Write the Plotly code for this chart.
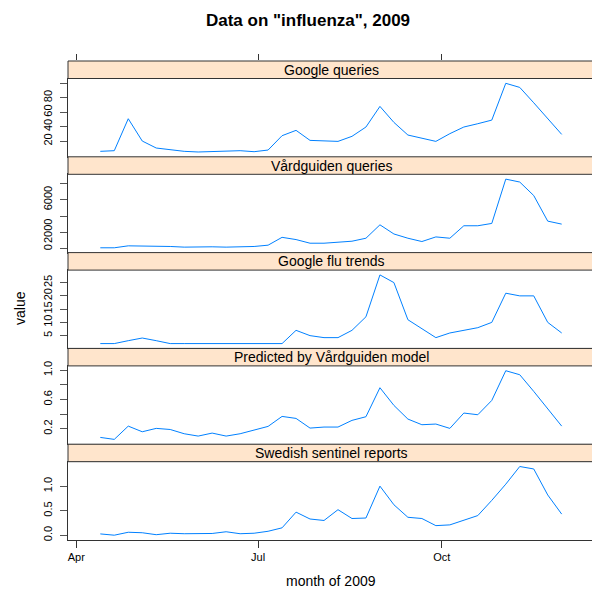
import plotly.graph_objects as go
import pandas as pd

dates = ["2009-04-13", "2009-04-20", "2009-04-27", "2009-05-04", "2009-05-11", "2009-05-18",
         "2009-05-25", "2009-06-01", "2009-06-08", "2009-06-15", "2009-06-22", "2009-06-29",
         "2009-07-06", "2009-07-13", "2009-07-20", "2009-07-27", "2009-08-03", "2009-08-10",
         "2009-08-17", "2009-08-24", "2009-08-31", "2009-09-07", "2009-09-14", "2009-09-21",
         "2009-09-28", "2009-10-05", "2009-10-12", "2009-10-19", "2009-10-26", "2009-11-02",
         "2009-11-09", "2009-11-16", "2009-11-23", "2009-11-30"]

google_queries = [5.7, 6.6, 50.9, 20, 10.3, 8, 5.7, 4.8, 5.7, 5.7, 6.6, 5.2, 7.5, 27.4, 34.8,
                  20.9, 20, 19.5, 26.5, 39.4, 68, 45.8, 28.3, 23.7, 19.5, 30.2, 39.4, 44, 49,
                  100, 94.3, 73, 50.9, 29.2]
vardguiden_queries = [120, 120, 360, 360, 360, 280, 200, 240, 240, 200, 200, 280, 440, 1400,
                      1125, 680, 680, 760, 925, 1290, 2930, 1810, 1290, 885, 1450, 1290, 2815,
                      2815, 3100, 8520, 8160, 6510, 3380, 3015]
google_flu_trends = [2, 2, 3.1, 4.1, 3.1, 2, 2, 2, 2, 2, 2, 2, 2, 2, 7, 5, 4.25, 4.25, 7, 12.1,
                     27.9, 25, 11, 7.5, 4.25, 6, 7, 8, 10, 21, 20, 20, 10, 6]
predicted_vardguiden = [0.082, 0.055, 0.236, 0.159, 0.205, 0.19, 0.132, 0.1, 0.141, 0.1, 0.132,
                        0.177, 0.232, 0.368, 0.341, 0.209, 0.223, 0.223, 0.314, 0.364, 0.759,
                        0.518, 0.332, 0.255, 0.264, 0.205, 0.414, 0.391, 0.586, 0.991, 0.936,
                        0.709, 0.468, 0.236]
swedish_sentinel = [0.026, 0.0, 0.06, 0.05, 0.01, 0.04, 0.03, 0.03, 0.035, 0.07, 0.03, 0.04,
                    0.08, 0.15, 0.47, 0.33, 0.30, 0.52, 0.34, 0.35, 1.0, 0.62, 0.365, 0.34,
                    0.195, 0.21, 0.30, 0.40, 0.71, 1.04, 1.40, 1.35, 0.82, 0.43]

panel_names = ["Google queries", "Vårdguiden queries", "Google flu trends",
               "Predicted by Vårdguiden model", "Swedish sentinel reports"]
panel_values = [google_queries, vardguiden_queries, google_flu_trends,
                predicted_vardguiden, swedish_sentinel]
ytick_vals = [[20, 40, 60, 80, 100], [0, 2000, 4000, 6000, 8000], [5, 10, 15, 20, 25],
              [0.2, 0.4, 0.6, 0.8, 1.0], [0.0, 0.5, 1.0]]
ytick_text = [["20", "40", "60", "80", ""], ["0", "2000", "", "6000", ""],
              ["5", "10", "15", "20", "25"], ["0.2", "", "0.6", "", "1.0"],
              ["0.0", "0.5", "1.0"]]
xtick_vals = ["2009-04-01", "2009-07-01", "2009-10-01"]
xtick_text = ["Apr", "Jul", "Oct"]

FONT = "Liberation Sans, Arial, sans-serif"
LINE_COL = "#0080ff"
STRIP_BG = "#ffe5cc"
BORDER = "#333333"

W, H = 600, 600
ML, MR, MT, MB = 60, 14, 53, 68
plot_h = H - MT - MB
unit = 1.0 / 5
strip = 17.5 / plot_h

# x range: lattice-style 7% padding
dts = pd.to_datetime(dates)
span = dts.max() - dts.min()
xr = [dts.min() - 0.07 * span, dts.max() + 0.07 * span]
xr = [d.strftime("%Y-%m-%d %H:%M:%S") for d in xr]

fig = go.Figure()
shapes = []
annotations = []
for i, (name, vals) in enumerate(zip(panel_names, panel_values)):
    k = i + 1
    top = 1 - i * unit
    bot = 1 - (i + 1) * unit
    fig.add_trace(go.Scatter(x=dates, y=vals, mode="lines",
                             line=dict(color=LINE_COL, width=1),
                             xaxis=f"x{k}" if k > 1 else "x",
                             yaxis=f"y{k}" if k > 1 else "y",
                             showlegend=False, hoverinfo="skip"))
    lo, hi = min(vals), max(vals)
    r = hi - lo
    yr = [lo - 0.07 * r, hi + 0.07 * r]
    xa = dict(domain=[0, 1], range=xr, type="date", anchor=f"y{k}" if k > 1 else "y",
              showgrid=False, zeroline=False, showline=True, linecolor=BORDER,
              linewidth=1, mirror=True,
              tickvals=xtick_vals, ticktext=xtick_text,
              tickfont=dict(family=FONT, size=11, color="black"))
    if k == 5:
        xa.update(ticks="outside", ticklen=7, tickcolor=BORDER, showticklabels=True)
    else:
        xa.update(ticks="", showticklabels=False)
    if k > 1:
        xa["matches"] = "x"
    ya = dict(domain=[bot, top - strip], range=yr, anchor=f"x{k}" if k > 1 else "x",
              showgrid=False, zeroline=False, showline=True, linecolor=BORDER,
              linewidth=1, mirror=True, ticks="outside", ticklen=7, tickcolor="#555555",
              tickvals=ytick_vals[i], ticktext=ytick_text[i], tickangle=-90,
              ticklabelstandoff=4,
              tickfont=dict(family=FONT, size=11, color="black"))
    fig.update_layout(**{("xaxis" if k == 1 else f"xaxis{k}"): xa,
                         ("yaxis" if k == 1 else f"yaxis{k}"): ya})
    shapes.append(dict(type="rect", xref="paper", yref="paper", x0=0, x1=1,
                       y0=top - strip, y1=top, fillcolor=STRIP_BG,
                       line=dict(color=BORDER, width=1), layer="above"))
    annotations.append(dict(text=name, xref="paper", yref="paper", x=0.5,
                            y=top - strip / 2, showarrow=False, xanchor="center",
                            yanchor="middle",
                            font=dict(family=FONT, size=14, color="black")))

# top tick marks above the first strip (lattice style)
fig.add_trace(go.Scatter(x=[], y=[], xaxis="x6", yaxis="y6", showlegend=False))
fig.update_layout(
    xaxis6=dict(domain=[0, 1], range=xr, type="date", matches="x", anchor="y6", side="top",
                ticks="outside", ticklen=6, tickcolor=BORDER, showticklabels=False,
                tickvals=xtick_vals, showgrid=False, zeroline=False, showline=False),
    yaxis6=dict(domain=[1 - strip, 1], anchor="x6", visible=False, range=[0, 1]),
)

annotations += [
    dict(text="month of 2009", xref="paper", yref="paper", x=0.5, y=(532 - 573) / plot_h,
         showarrow=False, xanchor="center", yanchor="middle",
         font=dict(family=FONT, size=14, color="black")),
    dict(text="value", xref="paper", yref="paper", x=(12 - ML) / (W - ML - MR),
         y=(532 - 300) / plot_h, showarrow=False, textangle=-90,
         xanchor="center", yanchor="middle",
         font=dict(family=FONT, size=14, color="black")),
]

fig.update_layout(
    width=W, height=H,
    margin=dict(l=ML, r=MR, t=MT, b=MB),
    paper_bgcolor="white", plot_bgcolor="white",
    title=dict(text="<b>Data on \"influenza\", 2009</b>", x=0.5, xref="container",
               xanchor="center", y=1 - 12 / H, yref="container", yanchor="middle",
               font=dict(family=FONT, size=17, color="black")),
    shapes=shapes, annotations=annotations,
)

fig.write_html("out.html")
